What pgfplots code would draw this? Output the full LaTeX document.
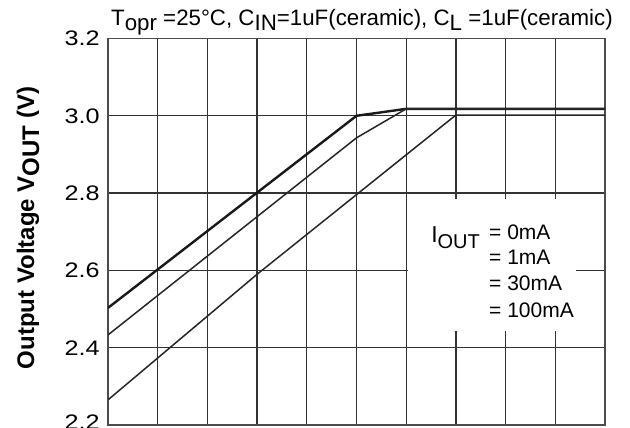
\documentclass[border=0pt]{standalone}
\usepackage{pgfplots}
\pgfplotsset{compat=1.18}
\usepackage{fontspec}
\setmainfont{Liberation Sans}
\begin{document}
\begin{tikzpicture}[x=1pt,y=1pt]
\useasboundingbox (0,0) rectangle (630,428);
\begin{axis}[
  at={(108pt,3pt)}, anchor=south west,
  scale only axis, width=497pt, height=386.5pt,
  xmin=2.5, xmax=3.5, ymin=2.2, ymax=3.2,
  xtick={2.5,2.6,...,3.5}, xticklabels={},
  ytick={2.2,2.4,2.6,2.8,3.0,3.2},
  yticklabels={\raisebox{6pt}{2.2},2.4,2.6,2.8,3.0,3.2},
  yticklabel style={anchor=east, inner sep=0pt, xshift=-8pt, xscale=1.2, font=\fontsize{21}{21}\selectfont},
  major tick length=0pt,
  grid=major,
  major grid style={draw=black!80, line width=1.3pt},
  axis line style={draw=black!70, line width=1.6pt},
  clip=true,
]
\fill[white] (axis cs:3.1035,2.443) rectangle (axis cs:3.442,2.784);
% 0mA and 1mA (overlapping)
\addplot[black!90, line width=2.4pt] coordinates {(2.5,2.503) (3.0,3.0) (3.1,3.018) (3.5,3.018)};
% 30mA
\addplot[black!85, line width=1.5pt] coordinates {(2.5,2.433) (3.0,2.943) (3.1,3.018) (3.5,3.018)};
% 100mA
\addplot[black!85, line width=1.5pt] coordinates {(2.5,2.265) (2.8,2.59) (3.2,3.002) (3.5,3.002)};
\node[anchor=base west, inner sep=0pt, font=\fontsize{23}{23}\selectfont] at (axis cs:3.150,2.673) {I\raisebox{-6pt}{\fontsize{20}{20}\selectfont OUT}};
\node[anchor=base west, inner sep=0pt, font=\fontsize{21}{21}\selectfont] at (axis cs:3.2666,2.6787) {= 0mA};
\node[anchor=base west, inner sep=0pt, font=\fontsize{21}{21}\selectfont] at (axis cs:3.2666,2.614) {= 1mA};
\node[anchor=base west, inner sep=0pt, font=\fontsize{21}{21}\selectfont] at (axis cs:3.2666,2.549) {= 30mA};
\node[anchor=base west, inner sep=0pt, font=\fontsize{21}{21}\selectfont] at (axis cs:3.2666,2.479) {= 100mA};
\end{axis}
\node[anchor=base west, inner sep=0pt, font=\fontsize{22.3}{22.3}\selectfont] at (111,402) {T\raisebox{-5pt}{opr} =25\textdegree C, C\raisebox{-5pt}{IN}=1uF(ceramic), C\raisebox{-5pt}{L} =1uF(ceramic)};
\node[rotate=90, inner sep=0pt, font=\bfseries\fontsize{24}{24}\selectfont] at (28,200) {Output Voltage V\raisebox{-5pt}{OUT} (V)};
\end{tikzpicture}
\end{document}
